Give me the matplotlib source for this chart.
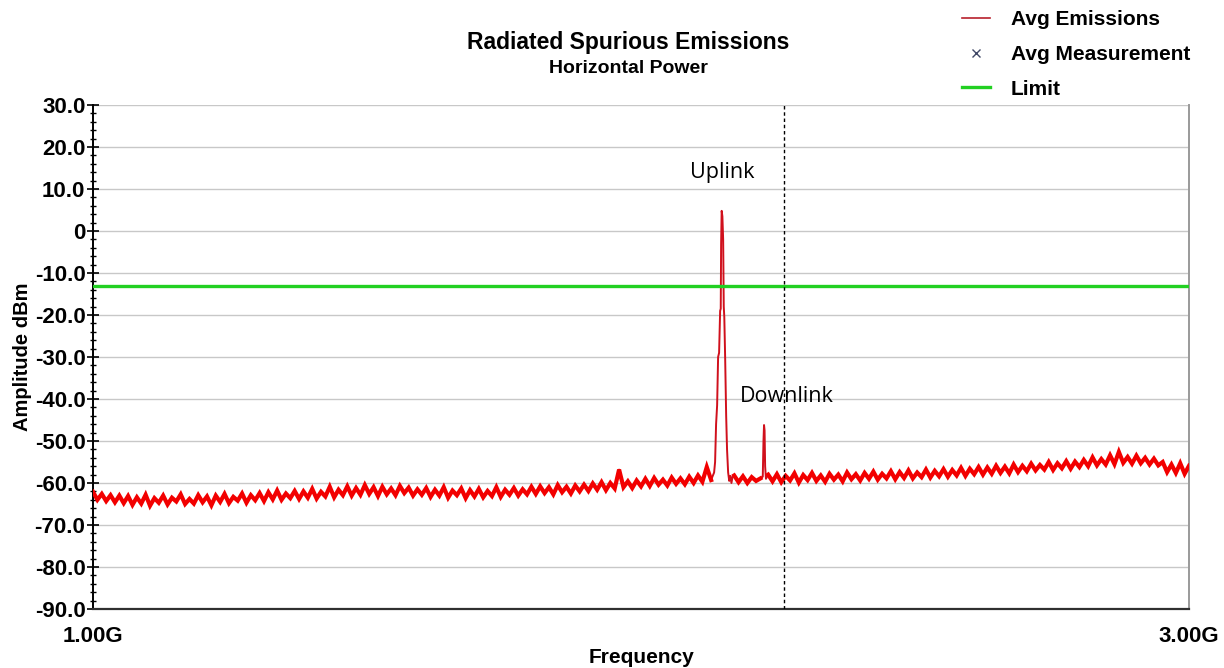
import numpy as np
import matplotlib
matplotlib.use("Agg")
import matplotlib.pyplot as plt
from matplotlib.lines import Line2D

# ---- data -------------------------------------------------------------
# Average emissions sweep, low band (start 1.000 GHz, 8 MHz step)
low_start_ghz = 1.000
low_band_dbm = [
    -62.1, -64.0, -62.6, -64.3, -62.9, -64.6, -63.0,
    -64.8, -63.1, -65.2, -63.4, -64.9, -62.8, -65.4, -63.6, -64.7, -63.0,
    -65.1, -63.5, -64.4, -62.7, -65.0, -63.8, -64.9, -62.9, -64.6, -63.2,
    -65.3, -63.0, -64.5, -62.6, -64.8, -63.3, -64.2, -62.5, -64.7, -62.9, -64.1,
    -62.4, -64.3, -62.2, -63.9, -61.8, -64.0, -62.5, -63.6, -61.9, -63.8,
    -62.0, -63.5, -61.4, -63.7, -62.1, -63.2, -60.9, -63.4, -61.6,
    -62.9, -60.8, -63.0, -61.2, -62.8, -60.5, -62.6, -61.0, -63.1, -60.9,
    -62.7, -61.3, -62.9, -60.7, -62.4, -61.1, -63.0, -61.5, -62.8,
    -61.2, -63.3, -61.6, -63.0, -61.0, -63.5, -61.8, -62.9, -61.3, -63.6,
    -61.7, -63.2, -61.4, -63.4, -61.9, -63.1, -61.0, -63.3, -61.6, -62.8,
    -61.2, -63.0, -61.5, -62.7, -60.9,
    -62.6, -60.8, -62.4, -61.0, -62.7, -60.5, -62.2, -60.9, -62.5, -60.6, -62.0, -60.4,
    -61.9, -60.1, -61.6, -59.8, -61.7, -60.0, -61.3, -56.8, -61.0, -59.6, -61.2, -59.4, -60.8,
    -59.0, -60.7, -58.8, -60.4, -59.2, -60.6, -58.7, -60.2, -58.9, -60.3, -58.5, -60.0,
    -58.2, -59.7, -56.2, -59.3,
]

# Uplink carrier
uplink_ghz = [2.1300, 2.1334, 2.1352, 2.1370, 2.1389, 2.1407, 2.1425, 2.1444,
              2.1455, 2.1462, 2.1472, 2.1485, 2.1499, 2.1510, 2.1520, 2.1536,
              2.1554, 2.1570, 2.1590, 2.1610, 2.1630, 2.1650, 2.1670]
uplink_dbm = [-58.6, -57.5, -55.0, -46.0, -41.5, -30.0, -29.0, -19.0,
              -18.5, -3.0, 4.8, 3.5, -2.0, -18.0, -20.5, -30.5,
              -44.0, -52.0, -57.5, -59.5, -58.3, -60.0, -58.6]

# Between uplink and downlink (start 2.170 GHz, 8 MHz step)
mid_start_ghz = 2.170
mid_band_dbm = [-58.2, -59.8, -58.4, -60.0, -58.6, -59.5, -58.9]

# Downlink carrier
downlink_ghz = [2.2222, 2.2235, 2.2245, 2.2255, 2.2265, 2.2280]
downlink_dbm = [-58.5, -50.0, -46.2, -47.5, -56.0, -59.0]

# High band (start 2.232 GHz, 8 MHz step)
high_start_ghz = 2.232
high_band_dbm = [
    -58.0, -59.6, -57.9, -59.8, -58.3, -59.4, -57.7, -59.9, -58.1, -59.3,
    -57.6, -59.5, -58.2, -59.7, -57.8, -59.2, -58.0, -59.6, -57.5, -59.1,
    -57.9, -59.4, -57.6, -59.0, -57.3, -59.2, -57.8, -58.9, -57.2, -59.1,
    -57.4, -58.8, -57.0, -58.9, -57.5, -58.6, -56.8, -58.7, -57.1, -58.4,
    -56.7, -58.5, -56.9, -58.2, -56.4, -58.3, -56.6, -57.9, -56.2, -58.0,
    -56.3, -57.8, -55.9, -57.6, -56.1, -57.7, -55.6, -57.4, -55.9, -57.2,
    -55.4, -57.0, -55.7, -56.8, -55.0, -56.9, -55.3, -56.5, -54.8, -56.6,
    -54.9, -56.2, -54.5, -56.0, -53.9, -55.8, -54.3, -55.6, -53.4, -55.5,
    -52.6, -55.2, -53.8, -55.4, -53.5, -55.3, -54.0, -55.6, -54.2, -55.8,
    -55.0, -57.4, -55.6, -57.6, -55.3, -57.8, -55.9,
]
sweep_step_ghz = 0.008

limit_dbm = -13.0
marker_ghz = 2.261
uplink_label_pos = (2.148, 14.0)
downlink_label_pos = (2.266, -39.3)

y_ticks = [30, 20, 10, 0, -10, -20, -30, -40, -50, -60, -70, -80, -90]
y_tick_labels = ["30.0", "20.0", "10.0", "0", "-10.0", "-20.0", "-30.0",
                 "-40.0", "-50.0", "-60.0", "-70.0", "-80.0", "-90.0"]
x_ticks = [1.0, 3.0]
x_tick_labels = ["1.00G", "3.00G"]

# ---- assemble trace ---------------------------------------------------
def band(start, values):
    return start + sweep_step_ghz * np.arange(len(values))

low_f = band(low_start_ghz, low_band_dbm)
mid_f = band(mid_start_ghz, mid_band_dbm)
high_f = band(high_start_ghz, high_band_dbm)

freq = np.concatenate([low_f, uplink_ghz, mid_f, downlink_ghz, high_f])
level = np.concatenate([low_band_dbm, uplink_dbm, mid_band_dbm,
                        downlink_dbm, high_band_dbm])

# ---- figure -----------------------------------------------------------
plt.rcParams['font.family'] = ['Liberation Sans', 'DejaVu Sans']
fig = plt.figure(figsize=(12.24, 6.68), dpi=100)
ax = fig.add_axes([0.0760, 0.0883, 0.8954, 0.7545])

# full sweep as a thin trace, the noise floor drawn heavier on top
ax.plot(freq, level, color="#d0101c", lw=1.4, zorder=3)
for f, v in ((low_f, low_band_dbm), (mid_f, mid_band_dbm),
             (high_f, high_band_dbm)):
    ax.plot(f, v, color="#f20000", lw=3.0, zorder=3, solid_joinstyle="miter")

ax.axhline(limit_dbm, color="#22d022", lw=2.4, zorder=4)
ax.axvline(marker_ghz, color="black", lw=1.0, ls=(0, (2.5, 2)), zorder=5)

ax.set_xlim(1.0, 3.0)
ax.set_ylim(-90, 30)
ax.set_yticks(y_ticks)
ax.set_yticklabels(y_tick_labels, fontsize=16, fontweight="bold")
ax.set_yticks(np.arange(-90, 31, 2), minor=True)
ax.set_xticks(x_ticks)
ax.set_xticklabels(x_tick_labels, fontsize=16, fontweight="bold")
ax.tick_params(axis="x", length=0, pad=12)
ax.tick_params(axis="y", which="major", direction="inout", length=9,
               width=1.2, pad=1)
ax.tick_params(axis="y", which="minor", direction="inout", length=5, width=1.0)

ax.grid(axis="y", color="#c8c8c8", lw=1.0, zorder=0)
ax.set_axisbelow(True)
ax.spines["top"].set_visible(False)
ax.spines["left"].set_color("black")
ax.spines["left"].set_linewidth(1.4)
ax.spines["bottom"].set_color("#303030")
ax.spines["bottom"].set_linewidth(1.6)
ax.spines["right"].set_color("#9a9a9a")
ax.spines["right"].set_linewidth(1.4)

ax.set_xlabel("Frequency", fontsize=15, fontweight="bold", labelpad=1)
ax.set_ylabel("Amplitude dBm", fontsize=14.5, fontweight="bold", labelpad=2)

ax.text(*uplink_label_pos, "Uplink", fontsize=15.5, family="Open Sans",
        ha="center", va="center")
ax.text(*downlink_label_pos, "Downlink", fontsize=15.5, family="Open Sans",
        ha="center", va="center")

fig.text(0.5135, 0.936, "Radiated Spurious Emissions", fontsize=16.5,
         fontweight="bold", ha="center", va="center")
fig.text(0.5135, 0.897, "Horizontal Power", fontsize=14,
         fontweight="bold", ha="center", va="center")

handles = [
    Line2D([], [], color="#b8202c", lw=1.2),
    Line2D([], [], color="#404866", marker="x", ls="none", markersize=6),
    Line2D([], [], color="#22d022", lw=2.4),
]
labels = ["Avg Emissions", "Avg Measurement", "Limit"]
fig.legend(handles, labels, loc="upper left", bbox_to_anchor=(0.7705, 1.013),
           frameon=False, prop={"weight": "bold", "size": 15},
           handlelength=1.35, handletextpad=1.0, labelspacing=0.76)

fig.savefig("out.png", dpi=100)
